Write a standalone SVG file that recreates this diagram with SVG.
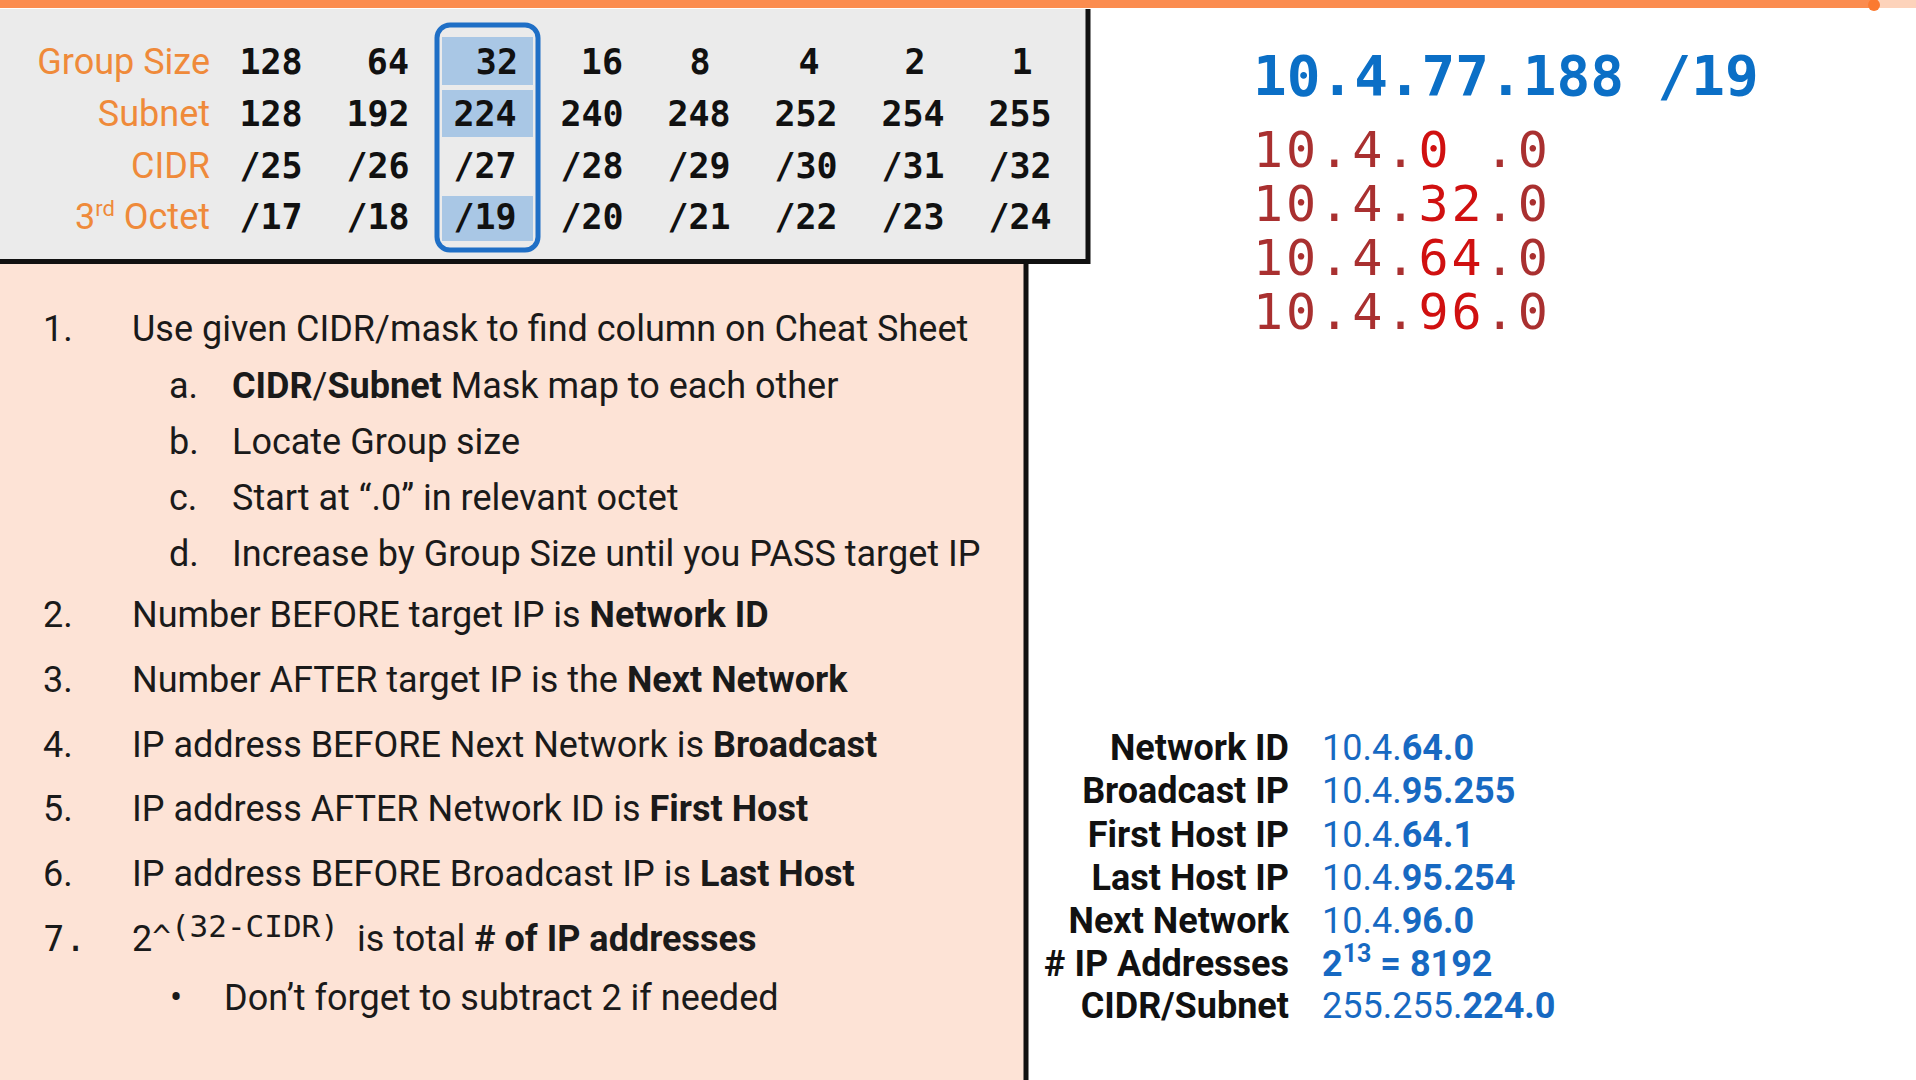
<svg xmlns="http://www.w3.org/2000/svg" width="1916" height="1080" viewBox="0 0 1916 1080">
<style>
.lbl{font-family:Roboto,"Liberation Sans",sans-serif;font-size:36px;fill:#ef8a3a;text-anchor:end}
.num{font-family:"DejaVu Sans Mono","Liberation Mono",monospace;font-weight:700;font-size:35px;fill:#111;text-anchor:middle}
.numR{font-family:"DejaVu Sans Mono","Liberation Mono",monospace;font-weight:700;font-size:35px;fill:#111;text-anchor:end}
.li{font-family:Roboto,"Liberation Sans",sans-serif;font-size:36px;fill:#1a1a1a}
.b{font-weight:700}
.mono{font-family:"DejaVu Sans Mono","Liberation Mono",monospace}
.tgt{font-family:"DejaVu Sans Mono","Liberation Mono",monospace;font-weight:700;font-size:56px;fill:#0b6fc6}
.red{font-family:"DejaVu Sans Mono","Liberation Mono",monospace;font-size:50px;letter-spacing:3px;fill:#a93030}
.hi{fill:#d01010}
.rk{font-family:Roboto,"Liberation Sans",sans-serif;font-weight:700;font-size:36px;fill:#111;text-anchor:end}
.rv{font-family:Roboto,"Liberation Sans",sans-serif;font-size:36px;fill:#1769c2}
.band{fill:#a9c7e5}
</style>
<rect x="0" y="0" width="1916" height="1080" fill="#ffffff"/>
<!-- progress bar -->
<g id="progress">
<rect x="0" y="0" width="1916" height="8" fill="#fdd3bb"/>
<rect x="0" y="0" width="1874" height="8" fill="#fb8c4f"/>
<circle cx="1874" cy="5" r="6" fill="#fb7a30"/>
</g>
<!-- cheat sheet table -->
<g id="cheat-sheet">
<rect x="0" y="9" width="1086" height="251" fill="#ebebeb"/>
<rect x="442" y="37" width="91" height="48" class="band"/>
<rect x="442" y="90" width="91" height="47" class="band"/>
<rect x="442" y="196" width="91" height="45" class="band"/>
<rect x="437" y="25" width="101" height="225" rx="13" fill="none" stroke="#1f6fc6" stroke-width="5"/>
<line x1="1088" y1="9" x2="1088" y2="264" stroke="#111" stroke-width="5"/>
<line x1="0" y1="261.5" x2="1090" y2="261.5" stroke="#111" stroke-width="5"/>
<text class="lbl" x="210" y="74">Group Size</text>
<text class="lbl" x="210" y="126">Subnet</text>
<text class="lbl" x="210" y="178">CIDR</text>
<text class="lbl" x="210" y="229">3<tspan font-size="22" dy="-13">rd</tspan><tspan dy="13"> Octet</tspan></text>
<text class="num" x="271" y="74">128</text>
<text class="numR" x="409" y="74">64</text>
<text class="numR" x="518" y="74">32</text>
<text class="numR" x="623" y="74">16</text>
<text class="num" x="700" y="74">8</text>
<text class="num" x="809" y="74">4</text>
<text class="num" x="915" y="74">2</text>
<text class="num" x="1022" y="74">1</text>
<text class="num" x="271" y="126">128</text>
<text class="num" x="378" y="126">192</text>
<text class="num" x="485" y="126">224</text>
<text class="num" x="592" y="126">240</text>
<text class="num" x="699" y="126">248</text>
<text class="num" x="806" y="126">252</text>
<text class="num" x="913" y="126">254</text>
<text class="num" x="1020" y="126">255</text>
<text class="num" x="271" y="178">/25</text>
<text class="num" x="378" y="178">/26</text>
<text class="num" x="485" y="178">/27</text>
<text class="num" x="592" y="178">/28</text>
<text class="num" x="699" y="178">/29</text>
<text class="num" x="806" y="178">/30</text>
<text class="num" x="913" y="178">/31</text>
<text class="num" x="1020" y="178">/32</text>
<text class="num" x="271" y="229">/17</text>
<text class="num" x="378" y="229">/18</text>
<text class="num" x="485" y="229">/19</text>
<text class="num" x="592" y="229">/20</text>
<text class="num" x="699" y="229">/21</text>
<text class="num" x="806" y="229">/22</text>
<text class="num" x="913" y="229">/23</text>
<text class="num" x="1020" y="229">/24</text>
</g>
<!-- steps panel -->
<g id="steps">
<rect x="0" y="264" width="1024" height="816" fill="#fde3d6"/>
<line x1="1026" y1="260" x2="1026" y2="1080" stroke="#111" stroke-width="5"/>
<text class="li" x="43" y="341">1.</text>
<text class="li" x="132" y="341">Use given CIDR/mask to find column on Cheat Sheet</text>
<text class="li" x="169" y="398">a.</text>
<text class="li" x="232" y="398"><tspan class="b">CIDR</tspan>/<tspan class="b">Subnet</tspan> Mask map to each other</text>
<text class="li" x="169" y="454">b.</text>
<text class="li" x="232" y="454">Locate Group size</text>
<text class="li" x="169" y="510">c.</text>
<text class="li" x="232" y="510">Start at “.0” in relevant octet</text>
<text class="li" x="169" y="566">d.</text>
<text class="li" x="232" y="566">Increase by Group Size until you PASS target IP</text>
<text class="li" x="43" y="627">2.</text>
<text class="li" x="132" y="627">Number BEFORE target IP is <tspan class="b">Network ID</tspan></text>
<text class="li" x="43" y="692">3.</text>
<text class="li" x="132" y="692">Number AFTER target IP is the <tspan class="b">Next Network</tspan></text>
<text class="li" x="43" y="757">4.</text>
<text class="li" x="132" y="757">IP address BEFORE Next Network is <tspan class="b">Broadcast</tspan></text>
<text class="li" x="43" y="821">5.</text>
<text class="li" x="132" y="821">IP address AFTER Network ID is <tspan class="b">First Host</tspan></text>
<text class="li" x="43" y="886">6.</text>
<text class="li" x="132" y="886">IP address BEFORE Broadcast IP is <tspan class="b">Last Host</tspan></text>
<text class="li mono" x="43" y="951">7.</text>
<text class="li" x="132" y="951">2<tspan class="mono" font-size="31" dy="-4">^</tspan><tspan class="mono" font-size="31" dy="-10">(32-CIDR)</tspan><tspan dy="14" x="357">is total </tspan><tspan class="b"># of IP addresses</tspan></text>
<text class="li" x="170" y="1010">•</text>
<text class="li" x="224" y="1010">Don’t forget to subtract 2 if needed</text>
</g>
<!-- target IP -->
<g id="target-ip">
<text class="tgt" x="1253" y="95">10.4.77.188 /19</text>
</g>
<g id="subnet-walk">
<text class="red" x="1253" y="167">10.4.<tspan class="hi">0</tspan> .0</text>
<text class="red" x="1253" y="221">10.4.<tspan class="hi">32</tspan>.0</text>
<text class="red" x="1253" y="275">10.4.<tspan class="hi">64</tspan>.0</text>
<text class="red" x="1253" y="329">10.4.<tspan class="hi">96</tspan>.0</text>
</g>
<!-- results -->
<g id="results">
<text class="rk" x="1289" y="760">Network ID</text>
<text class="rk" x="1289" y="803">Broadcast IP</text>
<text class="rk" x="1289" y="847">First Host IP</text>
<text class="rk" x="1289" y="890">Last Host IP</text>
<text class="rk" x="1289" y="933">Next Network</text>
<text class="rk" x="1289" y="976">&#35; IP Addresses</text>
<text class="rk" x="1289" y="1018">CIDR/Subnet</text>
<text class="rv" x="1322" y="760">10.4.<tspan class="b">64.0</tspan></text>
<text class="rv" x="1322" y="803">10.4.<tspan class="b">95.255</tspan></text>
<text class="rv" x="1322" y="847">10.4.<tspan class="b">64.1</tspan></text>
<text class="rv" x="1322" y="890">10.4.<tspan class="b">95.254</tspan></text>
<text class="rv" x="1322" y="933">10.4.<tspan class="b">96.0</tspan></text>
<text class="rv b" x="1322" y="976">2<tspan font-size="25" dy="-14">13</tspan><tspan dy="14"> = 8192</tspan></text>
<text class="rv" x="1322" y="1018">255.255.<tspan class="b">224.0</tspan></text>
</g>
<g id="connectors"/>
</svg>
